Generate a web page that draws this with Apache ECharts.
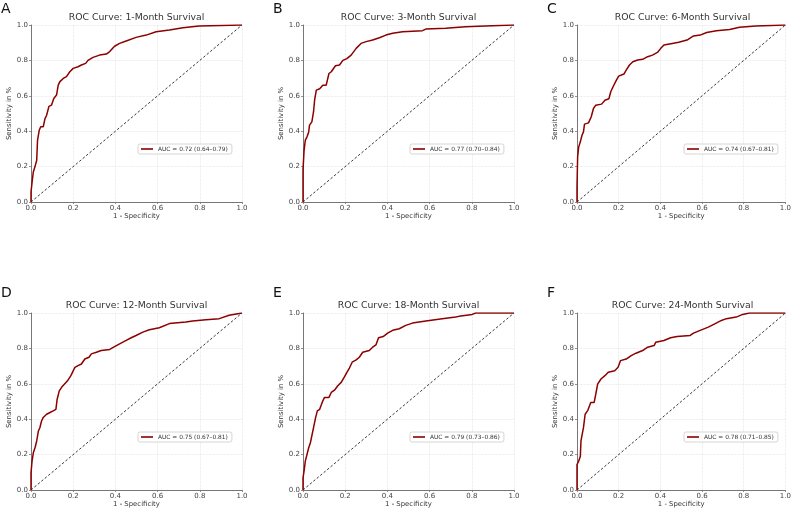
<!DOCTYPE html>
<html>
<head>
<meta charset="utf-8">
<script src="https://cdn.jsdelivr.net/npm/echarts@6/dist/echarts.min.js"></script>
<style>
  html, body { margin: 0; padding: 0; background: #fff; }
  #main { width: 794px; height: 509px; }
</style>
</head>
<body>
<div id="main"></div>
<script>
// ROC curves: false positive rate (1 - specificity) vs sensitivity
var fprA = [0, 0, 0.006, 0.011, 0.019, 0.027, 0.031, 0.039, 0.046, 0.058, 0.066, 0.074, 0.085, 0.097, 0.108, 0.121, 0.129, 0.137, 0.153, 0.168, 0.184, 0.2, 0.223, 0.239, 0.259, 0.27, 0.294, 0.325, 0.357, 0.373, 0.396, 0.42, 0.451, 0.498, 0.546, 0.593, 0.656, 0.72, 0.797, 1];
var tprA = [0, 0.057, 0.12, 0.17, 0.2, 0.236, 0.35, 0.405, 0.425, 0.425, 0.47, 0.49, 0.54, 0.547, 0.585, 0.604, 0.66, 0.68, 0.698, 0.708, 0.736, 0.755, 0.764, 0.774, 0.783, 0.8, 0.817, 0.83, 0.836, 0.85, 0.88, 0.896, 0.91, 0.93, 0.943, 0.962, 0.972, 0.985, 0.994, 1];

var fprB = [0, 0, 0.005, 0.011, 0.019, 0.027, 0.031, 0.042, 0.05, 0.055, 0.063, 0.079, 0.094, 0.11, 0.123, 0.134, 0.154, 0.173, 0.189, 0.208, 0.228, 0.252, 0.275, 0.299, 0.33, 0.362, 0.393, 0.425, 0.472, 0.566, 0.582, 0.676, 0.77, 0.896, 1];
var tprB = [0, 0.18, 0.29, 0.35, 0.368, 0.396, 0.434, 0.453, 0.51, 0.575, 0.632, 0.64, 0.66, 0.66, 0.726, 0.736, 0.77, 0.774, 0.8, 0.81, 0.83, 0.868, 0.896, 0.906, 0.915, 0.928, 0.943, 0.953, 0.962, 0.968, 0.977, 0.981, 0.99, 0.996, 1];

var fprC = [0, 0, 0.003, 0.008, 0.016, 0.024, 0.031, 0.036, 0.055, 0.068, 0.079, 0.09, 0.118, 0.134, 0.153, 0.162, 0.173, 0.189, 0.2, 0.225, 0.236, 0.252, 0.268, 0.291, 0.315, 0.339, 0.362, 0.386, 0.402, 0.417, 0.457, 0.488, 0.528, 0.559, 0.591, 0.622, 0.669, 0.732, 0.78, 0.858, 1];
var tprC = [0, 0.085, 0.255, 0.31, 0.34, 0.377, 0.396, 0.44, 0.447, 0.48, 0.528, 0.547, 0.553, 0.575, 0.583, 0.623, 0.651, 0.689, 0.711, 0.723, 0.745, 0.774, 0.792, 0.802, 0.806, 0.821, 0.83, 0.845, 0.868, 0.887, 0.896, 0.902, 0.915, 0.938, 0.943, 0.958, 0.968, 0.975, 0.987, 0.994, 1];

var fprD = [0, 0, 0.005, 0.011, 0.019, 0.027, 0.035, 0.042, 0.05, 0.058, 0.074, 0.09, 0.105, 0.118, 0.124, 0.134, 0.145, 0.16, 0.173, 0.189, 0.208, 0.223, 0.239, 0.255, 0.275, 0.286, 0.31, 0.333, 0.373, 0.396, 0.42, 0.451, 0.475, 0.498, 0.53, 0.561, 0.608, 0.656, 0.734, 0.766, 0.829, 0.892, 0.939, 1];
var tprD = [0, 0.097, 0.163, 0.21, 0.239, 0.277, 0.333, 0.352, 0.39, 0.41, 0.428, 0.438, 0.447, 0.456, 0.513, 0.56, 0.58, 0.6, 0.617, 0.646, 0.693, 0.703, 0.712, 0.74, 0.75, 0.769, 0.778, 0.788, 0.794, 0.81, 0.826, 0.845, 0.86, 0.873, 0.892, 0.905, 0.917, 0.94, 0.949, 0.955, 0.962, 0.968, 0.987, 1];

var fprE = [0, 0, 0.005, 0.011, 0.019, 0.027, 0.035, 0.044, 0.05, 0.06, 0.068, 0.079, 0.094, 0.102, 0.123, 0.134, 0.149, 0.165, 0.181, 0.197, 0.208, 0.22, 0.233, 0.252, 0.267, 0.283, 0.314, 0.33, 0.346, 0.358, 0.38, 0.401, 0.425, 0.456, 0.487, 0.519, 0.582, 0.66, 0.723, 0.739, 0.802, 0.818, 1];
var tprE = [0, 0.068, 0.106, 0.163, 0.172, 0.239, 0.267, 0.277, 0.352, 0.41, 0.447, 0.456, 0.504, 0.523, 0.523, 0.551, 0.564, 0.589, 0.608, 0.64, 0.665, 0.689, 0.722, 0.735, 0.75, 0.778, 0.788, 0.807, 0.82, 0.86, 0.867, 0.886, 0.902, 0.911, 0.93, 0.943, 0.955, 0.968, 0.977, 0.981, 0.992, 1, 1];

var fprF = [0, 0, 0.008, 0.016, 0.019, 0.027, 0.031, 0.039, 0.052, 0.066, 0.082, 0.09, 0.099, 0.115, 0.134, 0.15, 0.181, 0.197, 0.209, 0.236, 0.26, 0.283, 0.315, 0.339, 0.37, 0.378, 0.417, 0.449, 0.48, 0.543, 0.559, 0.591, 0.63, 0.661, 0.693, 0.717, 0.764, 0.795, 0.827, 1];
var tprF = [0, 0.144, 0.163, 0.19, 0.277, 0.286, 0.352, 0.428, 0.45, 0.494, 0.494, 0.541, 0.598, 0.627, 0.646, 0.665, 0.674, 0.693, 0.731, 0.74, 0.759, 0.773, 0.788, 0.807, 0.816, 0.835, 0.845, 0.86, 0.867, 0.873, 0.886, 0.902, 0.92, 0.939, 0.958, 0.968, 0.977, 0.992, 1, 1];

var panelLetters = ['A', 'B', 'C', 'D', 'E', 'F'];
var panelTitles = ['ROC Curve: 1-Month Survival', 'ROC Curve: 3-Month Survival', 'ROC Curve: 6-Month Survival',
                   'ROC Curve: 12-Month Survival', 'ROC Curve: 18-Month Survival', 'ROC Curve: 24-Month Survival'];
var aucLabels = ['AUC = 0.72 (0.64\u20130.79)', 'AUC = 0.77 (0.70\u20130.84)', 'AUC = 0.74 (0.67\u20130.81)',
                 'AUC = 0.75 (0.67\u20130.81)', 'AUC = 0.79 (0.73\u20130.86)', 'AUC = 0.78 (0.71\u20130.85)'];

var fprs = [fprA, fprB, fprC, fprD, fprE, fprF];
var tprs = [tprA, tprB, tprC, tprD, tprE, tprF];

var font = 'DejaVu Sans';
var gridLefts = [31, 303, 577];
var gridTops = [25, 313];
var letterTops = [2, 286];
var gridW = 211, gridH = 177;

var grids = [], xAxes = [], yAxes = [], series = [], titles = [], legends = [];

function tickFmt(v) { return Number(v).toFixed(1); }

function makeAxis(idx, name, gap) {
  return {
    gridIndex: idx,
    type: 'value', min: 0, max: 1, interval: 0.2,
    name: name, nameLocation: 'middle', nameGap: gap,
    nameTextStyle: { fontFamily: font, fontSize: 6.9, color: '#333' },
    axisLine: { show: true, lineStyle: { color: '#777', width: 1 } },
    axisTick: { show: true, length: 2, lineStyle: { color: '#777', width: 0.8 } },
    axisLabel: { fontFamily: font, fontSize: 7, color: '#444', margin: 3, formatter: tickFmt },
    splitLine: { show: true, lineStyle: { color: '#dedede', width: 0.7, type: 'dotted' } }
  };
}

for (var i = 0; i < 6; i++) {
  var col = i % 3, row = Math.floor(i / 3);
  var gLeft = gridLefts[col];
  var gTop = gridTops[row];
  grids.push({ left: gLeft, top: gTop, width: gridW, height: gridH });
  xAxes.push(makeAxis(i, '1 - Specificity', 10));
  yAxes.push(makeAxis(i, 'Sensitivity in %', 17));

  var pts = [];
  for (var k = 0; k < fprs[i].length; k++) pts.push([fprs[i][k], tprs[i][k]]);
  series.push({
    name: aucLabels[i], type: 'line', xAxisIndex: i, yAxisIndex: i,
    data: pts, symbol: 'none', z: 3,
    lineStyle: { color: '#8b0000', width: 1.5 }, itemStyle: { color: '#8b0000' }
  });
  series.push({
    name: 'diag' + i, type: 'line', xAxisIndex: i, yAxisIndex: i,
    data: [[0, 0], [1, 1]], symbol: 'none', z: 2, silent: true,
    lineStyle: { color: '#222', width: 0.9, type: [2.5, 2] }
  });

  titles.push({
    text: panelTitles[i], left: gLeft + gridW / 2, top: gTop - 12, textAlign: 'center', padding: 0,
    textStyle: { fontFamily: font, fontSize: 9.3, fontWeight: 'normal', color: '#333' }
  });
  titles.push({
    text: panelLetters[i], left: (col === 0 ? 1 : gLeft - 30), top: letterTops[row], padding: 0,
    textStyle: { fontFamily: font, fontSize: 14, fontWeight: 'normal', color: '#111' }
  });
  legends.push({
    data: [aucLabels[i]], left: gLeft + 107, top: gTop + 119,
    borderColor: '#ccc', borderWidth: 0.8, borderRadius: 2, padding: [2, 4, 2, 3],
    backgroundColor: '#fff', icon: 'rect', itemWidth: 12, itemHeight: 1.6,
    textStyle: { fontFamily: font, fontSize: 5.9, color: '#333' },
    selectedMode: false
  });
}

var chart = echarts.init(document.getElementById('main'));
chart.setOption({
  animation: false,
  backgroundColor: '#fff',
  title: titles,
  legend: legends,
  grid: grids,
  xAxis: xAxes,
  yAxis: yAxes,
  series: series
});
</script>
</body>
</html>
